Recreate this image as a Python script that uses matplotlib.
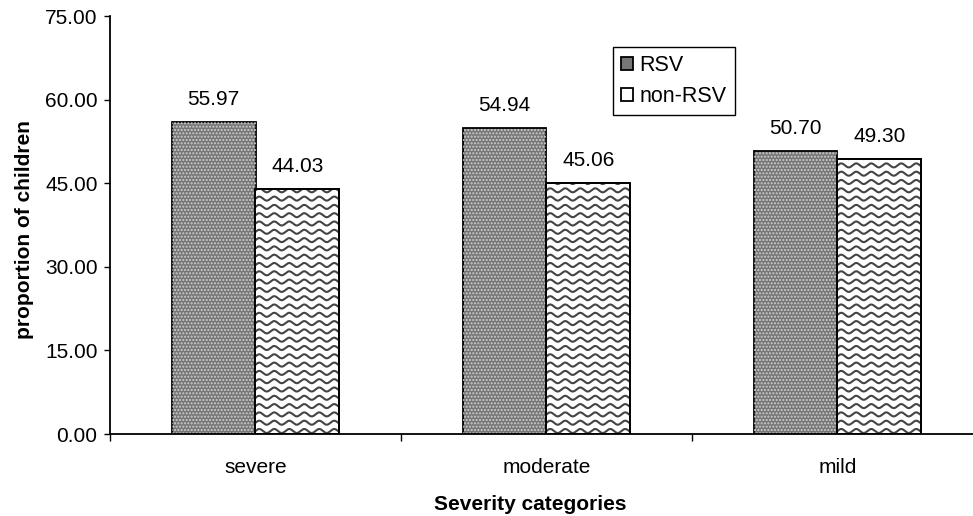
import numpy as np
import matplotlib
matplotlib.use("Agg")
import matplotlib.pyplot as plt
from matplotlib.lines import Line2D
from matplotlib.transforms import IdentityTransform

plt.rcParams['font.family'] = ['Liberation Sans', 'DejaVu Sans']

# Data
categories = ['severe', 'moderate', 'mild']
series_names = ['RSV', 'non-RSV']
rsv = [55.97, 54.94, 50.70]
non_rsv = [44.03, 45.06, 49.30]
yticks = [0, 15, 30, 45, 60, 75]

FS = 15

fig = plt.figure(figsize=(9.73, 5.16), dpi=100)
ax = fig.add_axes([110 / 973, 1 - 434 / 516, 873 / 973, 418 / 516])

x = np.arange(len(categories))
w = 0.288

bars_rsv = ax.bar(x - w / 2, rsv, w, color='#767676', edgecolor='black',
                  linewidth=1.3, label=series_names[0], zorder=2)
bars_non = ax.bar(x + w / 2, non_rsv, w, color='white', edgecolor='black',
                  linewidth=1.3, label=series_names[1], zorder=2)

# fine dotted texture on the RSV bars
plt.rcParams['hatch.linewidth'] = 1.0
for b in bars_rsv:
    ax.bar(b.get_x() + b.get_width() / 2, b.get_height(), b.get_width(),
           facecolor='none', edgecolor='#d0d0d0', linewidth=0,
           hatch='.....', zorder=2.1)

ax.set_xlim(-0.5, 2.5)
ax.set_ylim(0, 75)

# wavy texture on the non-RSV bars, clipped to each bar
def add_waves(patch, spacing=8.3, wavelength=15.0, amp=2.0):
    x0, y0 = ax.transData.transform((patch.get_x(), patch.get_y()))
    x1, y1 = ax.transData.transform((patch.get_x() + patch.get_width(),
                                     patch.get_y() + patch.get_height()))
    xs = np.linspace(x0 - 2, x1 + 2, 400)
    row = y0 + 3
    while row < y1 + amp + 2:
        ys = row + amp * np.sin(2 * np.pi * (xs - x0) / wavelength)
        ln = Line2D(xs, ys, transform=IdentityTransform(), color='#444444',
                    linewidth=1.5, zorder=2.2)
        ax.add_artist(ln)
        ln.set_clip_path(patch)
        row += spacing

for b in bars_non:
    add_waves(b)

# redraw the outline of the non-RSV bars on top of the texture
for b in bars_non:
    ax.bar(b.get_x() + b.get_width() / 2, b.get_height(), b.get_width(),
           facecolor='none', edgecolor='black', linewidth=1.3, zorder=2.3)

# value labels
for bars, vals in ((bars_rsv, rsv), (bars_non, non_rsv)):
    for b, v in zip(bars, vals):
        ax.annotate(f'{v:.2f}', (b.get_x() + b.get_width() / 2, v),
                    xytext=(0, 17), textcoords='offset pixels',
                    ha='center', va='baseline', fontsize=FS)

# axes styling
for s in ('top', 'right'):
    ax.spines[s].set_visible(False)
for s in ('left', 'bottom'):
    ax.spines[s].set_linewidth(1.3)

ax.set_yticks(yticks)
ax.set_yticklabels([f'{t:.2f}' for t in yticks])
ax.tick_params(axis='y', direction='out', length=4, width=1.0, pad=5,
               labelsize=FS)

ax.set_xticks(np.arange(-0.5, len(categories), 1.0))
ax.set_xticklabels([])
ax.tick_params(axis='x', which='major', direction='out', length=5, width=1.0)
ax.set_xticks(x, minor=True)
ax.set_xticklabels(categories, minor=True)
ax.tick_params(axis='x', which='minor', length=0, pad=17, labelsize=FS)

ax.set_ylabel('proportion of children', fontsize=FS, fontweight='bold')
ax.yaxis.set_label_coords(-0.087, 0.49)
ax.set_xlabel('Severity categories', fontsize=FS, fontweight='bold')
ax.xaxis.set_label_coords(0.481, -0.145)

leg = ax.legend(handles=[bars_rsv, bars_non], labels=series_names,
                loc='upper left', bbox_to_anchor=(613 / 973, 1 - 47 / 516),
                bbox_transform=fig.transFigure, borderaxespad=0,
                fontsize=15.5, fancybox=False, framealpha=1,
                handlelength=0.55, handleheight=0.55, handletextpad=0.3,
                borderpad=0.38, labelspacing=0.45)
leg.get_frame().set_edgecolor('black')
leg.get_frame().set_linewidth(1.0)

fig.savefig('out.png', dpi=100)
